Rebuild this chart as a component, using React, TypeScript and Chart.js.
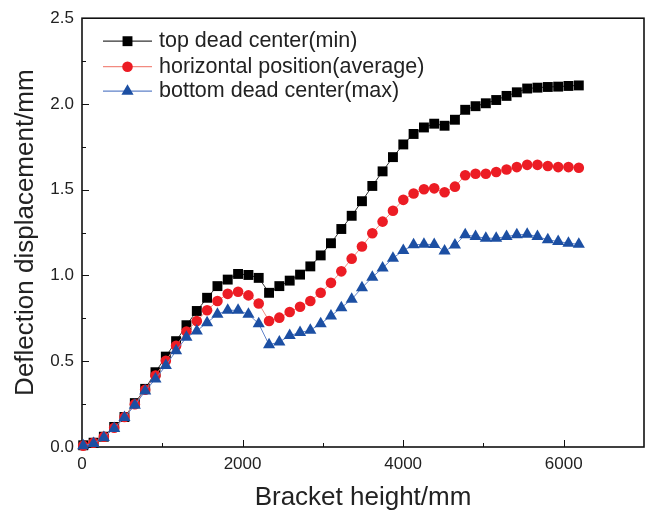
import React, { useEffect, useRef } from 'react';
import { Chart, registerables } from 'chart.js';

Chart.register(...registerables);

const bracketHeight = [
  15, 144, 272, 401, 529, 658, 787, 915, 1044, 1172, 1301, 1430, 1558, 1687, 1815, 1944, 2073,
  2201, 2330, 2458, 2587, 2716, 2844, 2973, 3101, 3230, 3359, 3487, 3616, 3744, 3873, 4002, 4130,
  4259, 4387, 4516, 4645, 4773, 4902, 5030, 5159, 5288, 5416, 5545, 5673, 5802, 5931, 6059, 6188,
];

const topDeadCenter = [
  0.01, 0.025, 0.06, 0.117, 0.175, 0.256, 0.339, 0.436, 0.527, 0.617, 0.71, 0.793, 0.87, 0.938,
  0.976, 1.009, 1.003, 0.986, 0.899, 0.938, 0.97, 1.005, 1.053, 1.117, 1.188, 1.271, 1.348, 1.433,
  1.522, 1.607, 1.69, 1.764, 1.825, 1.863, 1.885, 1.873, 1.908, 1.966, 1.987, 2.004, 2.023, 2.047,
  2.068, 2.09, 2.095, 2.099, 2.101, 2.105, 2.108,
];

const horizontalPosition = [
  0.008, 0.025, 0.06, 0.112, 0.175, 0.249, 0.334, 0.417, 0.503, 0.59, 0.673, 0.735, 0.797, 0.851,
  0.893, 0.905, 0.884, 0.837, 0.735, 0.754, 0.787, 0.818, 0.851, 0.899, 0.957, 1.024, 1.098, 1.169,
  1.246, 1.314, 1.377, 1.441, 1.478, 1.503, 1.508, 1.485, 1.518, 1.584, 1.593, 1.593, 1.603, 1.618,
  1.632, 1.645, 1.645, 1.638, 1.632, 1.632, 1.628,
];

const bottomDeadCenter = [
  0.008, 0.021, 0.056, 0.108, 0.172, 0.243, 0.326, 0.397, 0.475, 0.561, 0.64, 0.677, 0.725, 0.774,
  0.797, 0.797, 0.774, 0.719, 0.596, 0.612, 0.65, 0.667, 0.681, 0.719, 0.764, 0.812, 0.861, 0.928,
  0.99, 1.043, 1.101, 1.145, 1.179, 1.182, 1.18, 1.142, 1.177, 1.237, 1.227, 1.217, 1.217, 1.227,
  1.237, 1.24, 1.227, 1.208, 1.198, 1.188, 1.182,
];

const seriesLabels = [
  'top dead center(min)',
  'horizontal position(average)',
  'bottom dead center(max)',
];

const xMajorTicks = [0, 2000, 4000, 6000];
const xMinorTicks = [1000, 3000, 5000];
const yMajorTicks = [0, 0.5, 1.0, 1.5, 2.0, 2.5];
const yMinorTicks = [0.25, 0.75, 1.25, 1.75, 2.25];

const FONT = "'Liberation Sans', Arial, Helvetica, sans-serif";
const TEXT = '#222222';

const framePlugin = {
  id: 'frameTicks',
  beforeDatasetsDraw(chart: any) {
    const { ctx, chartArea: a, scales } = chart;
    const xs = scales.x;
    const ys = scales.y;
    ctx.save();
    ctx.strokeStyle = '#111';
    ctx.lineWidth = 1;
    ctx.beginPath();
    xMajorTicks.forEach((v) => {
      const px = Math.round(xs.getPixelForValue(v)) + 0.5;
      ctx.moveTo(px, a.bottom);
      ctx.lineTo(px, a.bottom - 7);
    });
    xMinorTicks.forEach((v) => {
      const px = Math.round(xs.getPixelForValue(v)) + 0.5;
      ctx.moveTo(px, a.bottom);
      ctx.lineTo(px, a.bottom - 4);
    });
    yMajorTicks.forEach((v) => {
      const py = Math.round(ys.getPixelForValue(v)) + 0.5;
      ctx.moveTo(a.left, py);
      ctx.lineTo(a.left + 7, py);
    });
    yMinorTicks.forEach((v) => {
      const py = Math.round(ys.getPixelForValue(v)) + 0.5;
      ctx.moveTo(a.left, py);
      ctx.lineTo(a.left + 4, py);
    });
    ctx.stroke();
    ctx.lineWidth = 1.6;
    ctx.strokeRect(a.left, a.top, a.right - a.left, a.bottom - a.top);
    ctx.restore();
  },
};

function drawMarker(ctx: CanvasRenderingContext2D, style: string, x: number, y: number, r: number) {
  ctx.beginPath();
  if (style === 'rect') {
    const s = Math.SQRT1_2 * r;
    ctx.rect(x - s, y - s, 2 * s, 2 * s);
  } else if (style === 'triangle') {
    const w = r;
    ctx.moveTo(x, y - r);
    ctx.lineTo(x + Math.sin((2 * Math.PI) / 3) * w, y + r * 0.5);
    ctx.lineTo(x - Math.sin((2 * Math.PI) / 3) * w, y + r * 0.5);
    ctx.closePath();
  } else {
    ctx.arc(x, y, r, 0, Math.PI * 2);
  }
  ctx.fill();
}

const legendPlugin = {
  id: 'customLegend',
  afterDraw(chart: any) {
    const { ctx, chartArea: a } = chart;
    const rowsY = [23, 48.5, 73];
    ctx.save();
    ctx.font = `21.5px ${FONT}`;
    ctx.textBaseline = 'middle';
    ctx.textAlign = 'left';
    const order = [0, 1, 2];
    order.forEach((idx, row) => {
      const ds = chart.data.datasets.find((d: any) => d.seriesIndex === idx);
      const y = a.top + rowsY[row];
      const x0 = a.left + 21;
      const x1 = a.left + 70;
      ctx.strokeStyle = ds.borderColor;
      ctx.lineWidth = 1.2;
      ctx.beginPath();
      ctx.moveTo(x0, y);
      ctx.lineTo(x1, y);
      ctx.stroke();
      ctx.fillStyle = ds.pointBackgroundColor;
      drawMarker(ctx, ds.pointStyle, (x0 + x1) / 2, y, ds.pointRadius);
      ctx.fillStyle = TEXT;
      ctx.fillText(ds.label, a.left + 77, y);
    });
    ctx.restore();
  },
};

export default function App() {
  const canvasRef = useRef<HTMLCanvasElement | null>(null);

  useEffect(() => {
    document.body.style.margin = '0';
    const canvas = canvasRef.current;
    if (!canvas) return;
    const mk = (arr: number[]) => bracketHeight.map((x, i) => ({ x, y: arr[i] }));
    const chart = new Chart(canvas, {
      type: 'line',
      data: {
        datasets: [
          {
            label: seriesLabels[2],
            seriesIndex: 2,
            data: mk(bottomDeadCenter),
            borderColor: '#5f82c9',
            borderWidth: 1,
            pointStyle: 'triangle',
            pointRadius: 7,
            pointBackgroundColor: '#1c4fa3',
            pointBorderColor: '#1c4fa3',
            pointBorderWidth: 0,
            order: 0,
            clip: false,
          },
          {
            label: seriesLabels[1],
            seriesIndex: 1,
            data: mk(horizontalPosition),
            borderColor: '#f28a80',
            borderWidth: 1,
            pointStyle: 'circle',
            pointRadius: 5.3,
            pointBackgroundColor: '#ec1c24',
            pointBorderColor: '#ec1c24',
            pointBorderWidth: 0,
            order: 1,
            clip: false,
          },
          {
            label: seriesLabels[0],
            seriesIndex: 0,
            data: mk(topDeadCenter),
            borderColor: '#333333',
            borderWidth: 1,
            pointStyle: 'rect',
            pointRadius: 7,
            pointBackgroundColor: '#000000',
            pointBorderColor: '#000000',
            pointBorderWidth: 0,
            order: 2,
            clip: false,
          },
        ] as any,
      },
      options: {
        animation: false,
        responsive: false,
        maintainAspectRatio: false,
        layout: { padding: { top: 15, right: 5, left: 0, bottom: 0 } },
        plugins: {
          legend: { display: false },
          tooltip: { enabled: false },
        },
        scales: {
          x: {
            type: 'linear',
            min: 0,
            max: 7000,
            afterBuildTicks: (s: any) => {
              s.ticks = xMajorTicks.map((v) => ({ value: v }));
            },
            afterFit: (s: any) => {
              s.height = 69;
            },
            grid: { display: false, drawTicks: false },
            border: { display: false },
            ticks: {
              color: TEXT,
              font: { family: FONT, size: 17 },
              padding: 7,
              maxRotation: 0,
              autoSkip: false,
              callback: (v: any) => String(v),
            },
            title: {
              display: true,
              text: 'Bracket height/mm',
              color: TEXT,
              font: { family: FONT, size: 26 },
              padding: { top: 0, bottom: 3 },
            },
          },
          y: {
            type: 'linear',
            min: 0,
            max: 2.5,
            afterBuildTicks: (s: any) => {
              s.ticks = yMajorTicks.map((v) => ({ value: v }));
            },
            afterFit: (s: any) => {
              s.width = 82;
            },
            grid: { display: false, drawTicks: false },
            border: { display: false },
            ticks: {
              color: TEXT,
              font: { family: FONT, size: 17 },
              padding: 8,
              autoSkip: false,
              callback: (v: any) => Number(v).toFixed(1),
            },
            title: {
              display: true,
              text: 'Deflection displacement/mm',
              color: TEXT,
              font: { family: FONT, size: 26 },
              padding: { top: 10, bottom: 0 },
            },
          },
        },
      },
      plugins: [framePlugin, legendPlugin],
    });
    return () => chart.destroy();
  }, []);

  return (
    <div style={{ width: 651, height: 516 }}>
      <canvas ref={canvasRef} width={651} height={516} style={{ display: 'block' }} />
    </div>
  );
}
